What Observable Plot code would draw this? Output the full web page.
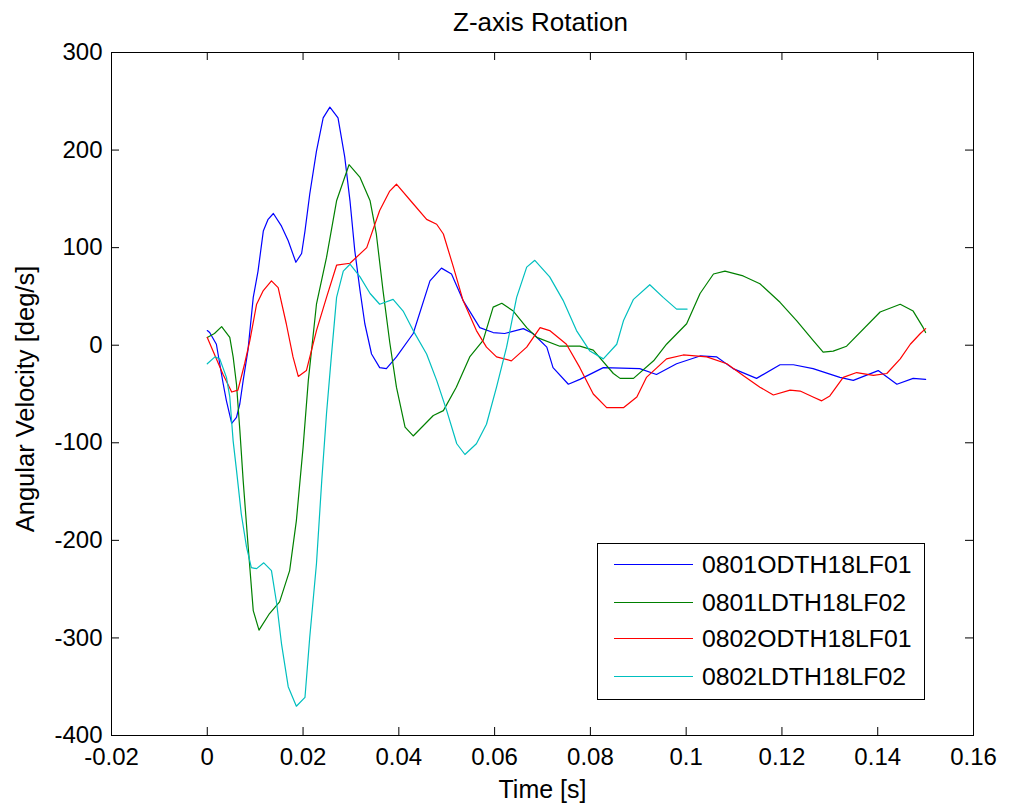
<!DOCTYPE html>
<html>
<head>
<meta charset="utf-8">
<script src="https://cdn.jsdelivr.net/npm/d3@7"></script>
<script src="https://cdn.jsdelivr.net/npm/@observablehq/plot@0.6"></script>
<style>
  html, body { margin: 0; padding: 0; background: #fff; }
  #wrap { position: relative; width: 1011px; height: 810px; font-family: "Liberation Sans", Arial, Helvetica, sans-serif; }
  #legend { position: absolute; left: 597px; top: 543px; width: 328px; height: 157px; border: 1px solid #000; background: #fff; box-sizing: border-box; }
  .row { position: absolute; left: 0; height: 30px; width: 100%; }
  .sw { position: absolute; left: 16px; width: 79px; top: 14px; height: 0; border-top: 1.2px solid; }
  .lb { position: absolute; left: 104px; top: 0; font-size: 24.8px; line-height: 30px; color: #000; white-space: nowrap; }
</style>
</head>
<body>
<div id="wrap"></div>
<script>
// ---- data ----
const seriesNames = ["0801ODTH18LF01", "0801LDTH18LF02", "0802ODTH18LF01", "0802LDTH18LF02"];
const seriesColors = ["#0000ff", "#008000", "#ff0000", "#00bfbf"];

const s0801ODTH18LF01 = [[0,15],[0.0005,13],[0.0019,1],[0.0033,-39],[0.004,-57],[0.0051,-80],[0.0061,-74],[0.0068,-60],[0.0075,-36],[0.0085,-5],[0.0096,49],[0.0106,76],[0.0117,117],[0.0127,129],[0.0138,135],[0.0155,122],[0.0169,107],[0.0185,85],[0.0197,94],[0.0204,117],[0.0214,155],[0.0228,199],[0.0242,233],[0.0256,244],[0.0273,233],[0.0287,193],[0.0298,148],[0.0308,97],[0.0319,56],[0.0329,22],[0.0343,-9],[0.036,-23],[0.0374,-24],[0.0395,-12],[0.043,12],[0.0465,66],[0.0489,79],[0.051,73],[0.0534,46],[0.0569,18],[0.0597,13],[0.0621,12],[0.066,17],[0.068,12],[0.0709,-2],[0.0722,-23],[0.0754,-40],[0.0778,-35],[0.0827,-23],[0.0903,-24],[0.0938,-30],[0.098,-19],[0.1029,-11],[0.1064,-12],[0.1098,-24],[0.1147,-34],[0.1196,-20],[0.1224,-20],[0.1265,-24],[0.1321,-33],[0.1349,-36],[0.1401,-26],[0.144,-40],[0.1474,-34],[0.15,-35]];

const s0801LDTH18LF02 = [[0,8],[0.0015,12],[0.003,19],[0.0047,8],[0.0054,-12],[0.0061,-40],[0.0068,-87],[0.0075,-139],[0.0085,-204],[0.0096,-272],[0.0108,-292],[0.013,-275],[0.0151,-263],[0.0172,-231],[0.0186,-180],[0.02,-105],[0.0211,-36],[0.0228,42],[0.0249,90],[0.027,148],[0.0296,185],[0.0319,172],[0.034,148],[0.0353,114],[0.0367,56],[0.0381,3],[0.0395,-43],[0.0413,-84],[0.043,-93],[0.0472,-72],[0.0493,-67],[0.052,-43],[0.0548,-12],[0.0576,5],[0.0597,39],[0.0615,43],[0.0639,35],[0.0667,18],[0.0688,8],[0.0736,-1],[0.0778,-1],[0.0806,-5],[0.0848,-29],[0.0862,-34],[0.089,-34],[0.0932,-16],[0.0959,1],[0.1001,22],[0.1029,53],[0.1057,73],[0.1081,76],[0.1119,71],[0.1154,63],[0.1196,44],[0.1231,25],[0.1265,5],[0.1286,-7],[0.1307,-6],[0.1335,-1],[0.1405,34],[0.1447,42],[0.1474,35],[0.1495,18],[0.15,13]];

const s0802ODTH18LF01 = [[0,8],[0.0012,-6],[0.0033,-30],[0.0051,-48],[0.0064,-46],[0.0078,-19],[0.0089,5],[0.0103,42],[0.0117,56],[0.0134,66],[0.0148,59],[0.0165,22],[0.0179,-12],[0.019,-32],[0.0207,-26],[0.0228,15],[0.0249,49],[0.027,82],[0.0298,84],[0.0333,100],[0.036,138],[0.0381,158],[0.0395,165],[0.043,145],[0.0458,129],[0.0479,124],[0.0493,114],[0.0514,80],[0.0534,46],[0.0562,15],[0.0583,-2],[0.0604,-12],[0.0635,-16],[0.0667,-2],[0.0695,18],[0.0715,15],[0.075,1],[0.0778,-23],[0.0806,-50],[0.0834,-64],[0.0869,-64],[0.0897,-53],[0.0917,-33],[0.0959,-14],[0.0994,-10],[0.1043,-12],[0.1085,-19],[0.1119,-31],[0.1154,-43],[0.1182,-51],[0.1217,-46],[0.1238,-47],[0.1265,-53],[0.1283,-57],[0.13,-52],[0.1328,-33],[0.1356,-28],[0.1391,-31],[0.1419,-29],[0.1447,-14],[0.1468,1],[0.1489,12],[0.15,17]];

const s0802LDTH18LF02 = [[0,-19],[0.0016,-12],[0.0026,-14],[0.004,-33],[0.0047,-53],[0.0054,-98],[0.0061,-128],[0.0071,-173],[0.0082,-207],[0.0092,-228],[0.0103,-229],[0.0118,-223],[0.0134,-231],[0.0145,-265],[0.0155,-306],[0.0169,-350],[0.0186,-370],[0.0204,-361],[0.0214,-299],[0.0228,-224],[0.0239,-139],[0.0249,-70],[0.0259,-12],[0.027,49],[0.0284,76],[0.0298,83],[0.0319,70],[0.034,53],[0.036,42],[0.0388,47],[0.0409,35],[0.043,15],[0.0458,-9],[0.0479,-36],[0.05,-67],[0.0521,-101],[0.0538,-112],[0.0562,-101],[0.0583,-81],[0.0604,-43],[0.0625,-2],[0.0646,49],[0.0667,80],[0.0684,87],[0.0715,70],[0.0743,46],[0.0771,15],[0.0799,-6],[0.0827,-14],[0.0855,1],[0.0869,25],[0.089,47],[0.0924,62],[0.0952,49],[0.098,37],[0.1002,37]];

const xTicks = [-0.02, 0, 0.02, 0.04, 0.06, 0.08, 0.1, 0.12, 0.14, 0.16];
const yTicks = [-400, -300, -200, -100, 0, 100, 200, 300];
const titleText = "Z-axis Rotation";
const xLabel = "Time [s]";
const yLabel = "Angular Velocity [deg/s]";

// ---- build table ----
const allSeries = [s0801ODTH18LF01, s0801LDTH18LF02, s0802ODTH18LF01, s0802LDTH18LF02];
const rows = [];
allSeries.forEach((s, i) => s.forEach(([t, v]) => rows.push({name: seriesNames[i], t, v})));

const fmt = d => String(+d.toFixed(2));
const W = 1011, H = 810, mL = 111, mR = 38, mT = 52, mB = 75;
const frameW = W - mL - mR, frameH = H - mT - mB, tick = 8;

const chart = Plot.plot({
  width: W, height: H,
  marginLeft: mL, marginRight: mR, marginTop: mT, marginBottom: mB,
  style: {fontFamily: '"Liberation Sans", Arial, Helvetica, sans-serif', fontSize: "24px", color: "#000", background: "#fff", overflow: "visible"},
  x: {domain: [-0.02, 0.16], label: null},
  y: {domain: [-400, 300], label: null},
  color: {domain: seriesNames, range: seriesColors},
  marks: [
    Plot.line(rows, {x: "t", y: "v", z: "name", stroke: "name", strokeWidth: 1.2, curve: "linear"}),
    Plot.frame({stroke: "#000", strokeWidth: 1}),
    Plot.tickX(xTicks, {x: d => d, insetTop: frameH - tick, stroke: "#000"}),
    Plot.tickX(xTicks, {x: d => d, insetBottom: frameH - tick, stroke: "#000"}),
    Plot.tickY(yTicks, {y: d => d, insetRight: frameW - tick, stroke: "#000"}),
    Plot.tickY(yTicks, {y: d => d, insetLeft: frameW - tick, stroke: "#000"}),
    Plot.axisX(xTicks, {tickSize: 0, tickPadding: 12, tickFormat: fmt, fontSize: 24, label: null}),
    Plot.axisY(yTicks, {tickSize: 0, tickPadding: 9, tickFormat: fmt, fontSize: 24, label: null}),
    Plot.text([titleText], {frameAnchor: "top", dy: -30, dx: -2, lineAnchor: "middle", textAnchor: "middle", fontSize: 26}),
    Plot.text([xLabel], {frameAnchor: "bottom", dy: 54, lineAnchor: "middle", textAnchor: "middle", fontSize: 25}),
    Plot.text([yLabel], {frameAnchor: "left", dx: -86, dy: 5, rotate: -90, lineAnchor: "middle", textAnchor: "middle", fontSize: 25.5})
  ]
});

const wrap = document.getElementById("wrap");
wrap.appendChild(chart);

// legend
const legend = document.createElement("div");
legend.id = "legend";
const rowTops = [6, 44, 80, 118];
seriesNames.forEach((n, i) => {
  const r = document.createElement("div");
  r.className = "row";
  r.style.top = rowTops[i] + "px";
  const sw = document.createElement("div");
  sw.className = "sw";
  sw.style.borderTopColor = seriesColors[i];
  const lb = document.createElement("div");
  lb.className = "lb";
  lb.textContent = n;
  r.appendChild(sw); r.appendChild(lb);
  legend.appendChild(r);
});
wrap.appendChild(legend);
</script>
</body>
</html>
